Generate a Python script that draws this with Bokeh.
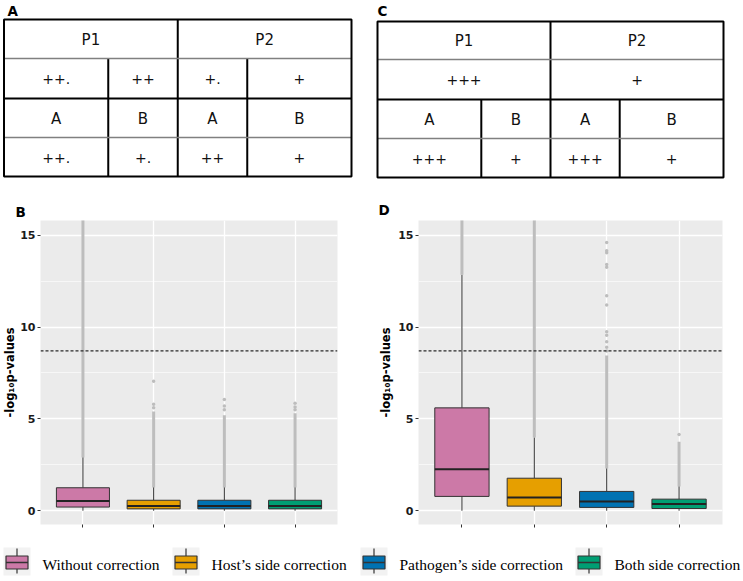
from bokeh.plotting import figure
from bokeh.layouts import column, row
from bokeh.models import Range1d, SingleIntervalTicker, FixedTicker, Span
from bokeh.core.properties import value
from bokeh.embed import file_html
from bokeh.resources import INLINE

# ---------------- data ----------------
categories = ["Without correction", "Host’s side correction",
              "Pathogen’s side correction", "Both side correction"]
colors = ["#CC79A7", "#E69F00", "#0072B2", "#009E73"]

# Table A
tableA_cells = [["P1", "P2"], ["++.", "++", "+.", "+"], ["A", "B", "A", "B"], ["++.", "+.", "++", "+"]]
tableA_spans = [[2, 2], [1, 1, 1, 1], [1, 1, 1, 1], [1, 1, 1, 1]]
# Table C
tableC_cells = [["P1", "P2"], ["+++", "+"], ["A", "B", "A", "B"], ["+++", "+", "+++", "+"]]
tableC_spans = [[2, 2], [2, 2], [1, 1, 1, 1], [1, 1, 1, 1]]

threshold = 8.7

# Panel B boxplots
b_q1 = [0.20, 0.10, 0.10, 0.10]
b_median = [0.53, 0.26, 0.26, 0.26]
b_q3 = [1.25, 0.57, 0.57, 0.57]
b_whisker_low = [0.0, 0.0, 0.0, 0.0]
b_whisker_high = [2.9, 1.27, 1.27, 1.27]
b_dense_top = [16.0, 5.4, 5.2, 5.3]
b_outlier_group = [1, 1, 1, 2, 2, 2, 3, 3, 3]
b_outlier_value = [5.6, 5.8, 7.05, 5.5, 5.7, 6.05, 5.5, 5.65, 5.85]

# Panel D boxplots
d_q1 = [0.78, 0.25, 0.18, 0.12]
d_median = [2.26, 0.72, 0.50, 0.36]
d_q3 = [5.6, 1.77, 1.05, 0.63]
d_whisker_low = [0.0, 0.0, 0.0, 0.0]
d_whisker_high = [12.84, 3.98, 2.3, 1.32]
d_dense_top = [16.0, 16.0, 8.45, 3.75]
d_outlier_group = [2, 2, 2, 2, 2, 2, 2, 2, 2, 2, 2, 2, 3]
d_outlier_value = [8.7, 8.9, 9.2, 9.55, 9.75, 11.2, 11.7, 13.25, 13.4, 14.05, 14.15, 14.6, 4.15]

# ---------------- tables ----------------
col_edges = [0.0, 0.3, 0.5, 0.7, 1.0]
inner_line_colors = ["#808080", "#000000", "#808080"]
inner_line_widths = [1.3, 2.0, 1.3]
TOP_H = 185


def table_fig(cells, spans, letter, left, right, rows_y, x0, x1, letter_x):
    p = figure(width=x1 - x0, height=TOP_H, x_range=Range1d(x0, x1), y_range=Range1d(TOP_H, 0),
               x_axis_location=None, y_axis_location=None, min_border=0,
               toolbar_location=None, output_backend="svg")
    p.grid.visible = False
    p.outline_line_color = None
    W = right - left
    tx, ty, tt, ts = [], [], [], []
    vx, vy0, vy1 = [], [], []
    for r, (rc, rs) in enumerate(zip(cells, spans)):
        top, bot = rows_y[r], rows_y[r + 1]
        c = 0
        for txt, sp in zip(rc, rs):
            xa = left + col_edges[c] * W
            xb = left + col_edges[c + sp] * W
            tx.append((xa + xb) / 2)
            ty.append((top + bot) / 2 + 0.5)
            tt.append(txt)
            ts.append("15px" if txt[0].isalpha() else "14px")
            if c > 0:
                vx.append(xa); vy0.append(top); vy1.append(bot)
            c += sp
    p.segment(x0=vx, y0=vy0, x1=vx, y1=vy1, line_color="black", line_width=2)
    for k in range(3):
        yk = rows_y[k + 1]
        p.segment(x0=[left], y0=[yk], x1=[right], y1=[yk],
                  line_color=inner_line_colors[k], line_width=inner_line_widths[k])
    p.quad(left=[left], right=[right], top=[rows_y[0]], bottom=[rows_y[-1]],
           fill_color=None, line_color="black", line_width=2)
    p.text(x=tx, y=ty, text=tt, text_font=value("DejaVu Sans"), text_font_size=ts,
           text_align="center", text_baseline="middle", text_color="#111111")
    p.text(x=[letter_x], y=[2.5], text=[letter], text_font=value("DejaVu Sans"),
           text_font_style="bold", text_font_size="13.5px", text_align="left",
           text_baseline="top", text_color="black")
    return p


tA = table_fig(tableA_cells, tableA_spans, "A", 3.5, 351, [19, 58, 98, 137, 176], 0, 370, 7)
tC = table_fig(tableC_cells, tableC_spans, "C", 377, 723, [21, 59, 99, 138, 177], 370, 743, 377)

# ---------------- boxplots ----------------
BOX_W = 0.75
MID_H = 345


def box_fig(letter, q1, med, q3, wlo, whi, dense_top, og, ov, width, mbl, mbr, mbt, mbb,
            toff, tstand, lab_standoff):
    xs = [i + 1 for i in range(len(categories))]
    p = figure(width=width, height=MID_H, x_range=Range1d(0.4, 4.6), y_range=Range1d(-0.75, 15.8),
               title=letter, toolbar_location=None, output_backend="svg",
               min_border_left=mbl, min_border_right=mbr, min_border_top=mbt,
               min_border_bottom=mbb)
    p.title.text_font = "DejaVu Sans"
    p.title.text_font_style = "bold"
    p.title.text_font_size = "13.5px"
    p.title.text_color = "black"
    p.title.offset = toff
    p.title.standoff = tstand
    p.background_fill_color = "#EBEBEB"
    p.border_fill_color = "white"
    p.outline_line_color = None

    p.yaxis.ticker = SingleIntervalTicker(interval=5, num_minor_ticks=2)
    p.xaxis.ticker = FixedTicker(ticks=xs)
    p.ygrid.grid_line_color = "white"
    p.ygrid.grid_line_width = 1.3
    p.ygrid.minor_grid_line_color = "white"
    p.ygrid.minor_grid_line_width = 0.6
    p.xgrid.grid_line_color = "white"
    p.xgrid.grid_line_width = 1.3

    p.axis.axis_line_color = None
    p.axis.major_tick_line_color = "#333333"
    p.axis.major_tick_out = 3
    p.axis.major_tick_in = 0
    p.axis.minor_tick_line_color = None
    p.yaxis.major_label_text_font = "DejaVu Sans"
    p.yaxis.major_label_text_font_style = "bold"
    p.yaxis.major_label_text_font_size = "11px"
    p.yaxis.major_label_text_color = "#1a1a1a"
    p.yaxis.major_label_standoff = 1
    p.yaxis.axis_label = "-log₁₀p-values"
    p.yaxis.axis_label_text_font = "DejaVu Sans"
    p.yaxis.axis_label_text_font_style = "bold"
    p.yaxis.axis_label_text_font_size = "11.5px"
    p.yaxis.axis_label_text_color = "black"
    p.yaxis.axis_label_standoff = lab_standoff
    p.xaxis.major_label_overrides = {x: "" for x in xs}
    p.xaxis.major_label_text_font_size = "1px"
    p.xaxis.major_label_standoff = 0

    # dense outlier bands and single outliers
    p.segment(x0=xs, y0=whi, x1=xs, y1=dense_top, line_color="#BDBDBD", line_width=3)
    p.scatter(x=[xs[g] for g in og], y=ov, size=3.5, fill_color="#BDBDBD", line_color=None)
    # whiskers
    p.segment(x0=xs, y0=wlo, x1=xs, y1=q1, line_color="#333333", line_width=1)
    p.segment(x0=xs, y0=q3, x1=xs, y1=whi, line_color="#333333", line_width=1)
    # boxes
    p.quad(left=[x - BOX_W / 2 for x in xs], right=[x + BOX_W / 2 for x in xs],
           bottom=q1, top=q3, fill_color=colors, line_color="#333333", line_width=1)
    p.segment(x0=[x - BOX_W / 2 for x in xs], y0=med, x1=[x + BOX_W / 2 for x in xs], y1=med,
              line_color="#222222", line_width=2)
    p.add_layout(Span(location=threshold, dimension="width", line_color="#2b2b2b",
                      line_dash="3 2", line_width=1.2))
    return p


pB = box_fig("B", b_q1, b_median, b_q3, b_whisker_low, b_whisker_high, b_dense_top,
             b_outlier_group, b_outlier_value, 370, 33, 33, 32, 6, -25, 2, 0)
pD = box_fig("D", d_q1, d_median, d_q3, d_whisker_low, d_whisker_high, d_dense_top,
             d_outlier_group, d_outlier_value, 373, 48, 21, 35, 5, -40, 5, 2)

# ---------------- legend ----------------
key_x = [3, 172, 360, 575]
KEY_W = 27
LEG_TOP = TOP_H + MID_H
LEG_H = 50
leg = figure(width=743, height=LEG_H, x_range=Range1d(0, 743),
             y_range=Range1d(LEG_TOP + LEG_H, LEG_TOP),
             x_axis_location=None, y_axis_location=None, min_border=0,
             toolbar_location=None, output_backend="svg")
leg.grid.visible = False
leg.outline_line_color = None
leg.quad(left=key_x, right=[k + KEY_W for k in key_x], top=[547] * 4, bottom=[575] * 4,
         fill_color="#F2F2F2", line_color=None)
leg.segment(x0=[k + KEY_W / 2 for k in key_x], y0=[548] * 4,
            x1=[k + KEY_W / 2 for k in key_x], y1=[573] * 4,
            line_color="#333333", line_width=1.2)
leg.quad(left=[k + 2.5 for k in key_x], right=[k + KEY_W - 2.5 for k in key_x],
         top=[555.5] * 4, bottom=[568.5] * 4, fill_color=colors, line_color="#333333",
         line_width=1.2)
leg.segment(x0=[k + 2.5 for k in key_x], y0=[562] * 4, x1=[k + KEY_W - 2.5 for k in key_x],
            y1=[562] * 4, line_color="#333333", line_width=1.5)
leg.text(x=[k + 39 for k in key_x], y=[563.5] * 4, text=categories,
         text_font=value("Liberation Serif"), text_font_size="15.5px",
         text_align="left", text_baseline="middle", text_color="black")

layout = column(row(tA, tC), row(pB, pD), leg)

open("out.html", "w").write(file_html(layout, INLINE))
